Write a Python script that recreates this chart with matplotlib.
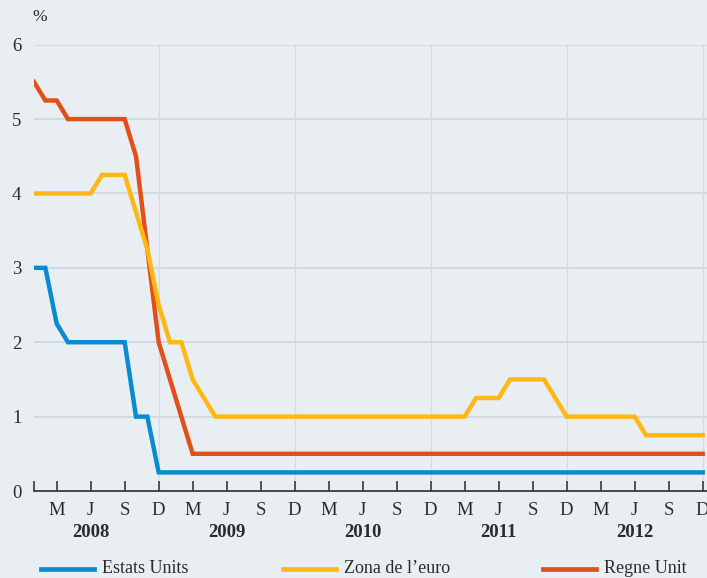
import matplotlib

matplotlib.use("Agg")
import matplotlib.pyplot as plt
from matplotlib.lines import Line2D

# monthly policy rates, Jan 2008 .. Dec 2012 (end of month, %)
us = [3.0, 3.0, 2.25, 2.0, 2.0, 2.0, 2.0, 2.0, 2.0, 1.0, 1.0, 0.25,
      0.25, 0.25, 0.25, 0.25, 0.25, 0.25, 0.25, 0.25, 0.25, 0.25, 0.25, 0.25,
      0.25, 0.25, 0.25, 0.25, 0.25, 0.25, 0.25, 0.25, 0.25, 0.25, 0.25, 0.25,
      0.25, 0.25, 0.25, 0.25, 0.25, 0.25, 0.25, 0.25, 0.25, 0.25, 0.25, 0.25,
      0.25, 0.25, 0.25, 0.25, 0.25, 0.25, 0.25, 0.25, 0.25, 0.25, 0.25, 0.25]
euro = [4.0, 4.0, 4.0, 4.0, 4.0, 4.0, 4.25, 4.25, 4.25, 3.75, 3.25, 2.5,
        2.0, 2.0, 1.5, 1.25, 1.0, 1.0, 1.0, 1.0, 1.0, 1.0, 1.0, 1.0,
        1.0, 1.0, 1.0, 1.0, 1.0, 1.0, 1.0, 1.0, 1.0, 1.0, 1.0, 1.0,
        1.0, 1.0, 1.0, 1.25, 1.25, 1.25, 1.5, 1.5, 1.5, 1.5, 1.25, 1.0,
        1.0, 1.0, 1.0, 1.0, 1.0, 1.0, 0.75, 0.75, 0.75, 0.75, 0.75, 0.75]
uk = [5.5, 5.25, 5.25, 5.0, 5.0, 5.0, 5.0, 5.0, 5.0, 4.5, 3.25, 2.0,
      1.5, 1.0, 0.5, 0.5, 0.5, 0.5, 0.5, 0.5, 0.5, 0.5, 0.5, 0.5,
      0.5, 0.5, 0.5, 0.5, 0.5, 0.5, 0.5, 0.5, 0.5, 0.5, 0.5, 0.5,
      0.5, 0.5, 0.5, 0.5, 0.5, 0.5, 0.5, 0.5, 0.5, 0.5, 0.5, 0.5,
      0.5, 0.5, 0.5, 0.5, 0.5, 0.5, 0.5, 0.5, 0.5, 0.5, 0.5, 0.5]

names = ["Estats Units", "Zona de l’euro", "Regne Unit"]
years = ["2008", "2009", "2010", "2011", "2012"]
month_letters = ["M", "J", "S", "D"]

bg = "#e9eef2"
blue = "#0a8ad0"
yellow = "#fdb813"
red = "#e2501a"
ink = "#2b2b2b"

plt.rcParams["font.family"] = ["Liberation Serif", "DejaVu Serif"]

fig = plt.figure(figsize=(7.07, 5.78), dpi=100, facecolor=bg)
ax = fig.add_axes([34 / 707, 1 - 491 / 578, 673 / 707, (491 - 44.7) / 578])
ax.set_facecolor(bg)

months = list(range(len(us)))
ax.plot(months, uk, color=red, lw=3.2, zorder=3, solid_joinstyle="miter")
ax.plot(months, us, color=blue, lw=3.2, zorder=3, solid_joinstyle="miter")
ax.plot(months, euro, color=yellow, lw=3.2, zorder=4, solid_joinstyle="miter")

ax.set_xlim(0, 59.38)
ax.set_ylim(0, 6)

# grid
for v in range(1, 7):
    ax.axhline(v, color="#c9d4de", lw=1.1, zorder=1)
for d in range(11, 60, 12):
    ax.axvline(d, color="#d3dce5", lw=1.0, zorder=1)

for s in ["top", "right", "left"]:
    ax.spines[s].set_visible(False)
ax.spines["bottom"].set_color(ink)
ax.spines["bottom"].set_linewidth(1.2)

ticks = list(range(2, 60, 3))
ax.set_xticks([0] + ticks)
ax.set_xticklabels([""] + [month_letters[k % 4] for k in range(len(ticks))])
ax.tick_params(axis="x", direction="in", length=7.5, width=1.1, color=ink,
               labelsize=13.5, labelcolor=ink, pad=8)
ax.set_yticks(range(0, 7))
ax.tick_params(axis="y", length=0, labelsize=13.5, labelcolor=ink, pad=9)

for k, y in enumerate(years):
    ax.text(5 + 12 * k, -0.094, y, transform=ax.get_xaxis_transform(),
            ha="center", va="center", fontsize=13.5, fontweight="bold",
            color=ink)

fig.text(40 / 707, 1 - 17 / 578, "%", ha="center", va="center",
         fontsize=12.5, color=ink)

# legend row
leg_y = 1 - 568.5 / 578
for x0, col, name in zip([41, 283, 543], [blue, yellow, red], names):
    fig.add_artist(Line2D([x0 / 707, (x0 + 53) / 707], [leg_y, leg_y],
                          color=col, lw=3.4, transform=fig.transFigure))
    fig.text((x0 + 61) / 707, leg_y, name, ha="left", va="center",
             fontsize=13, color=ink)

fig.savefig("out.png", dpi=100, facecolor=bg)
